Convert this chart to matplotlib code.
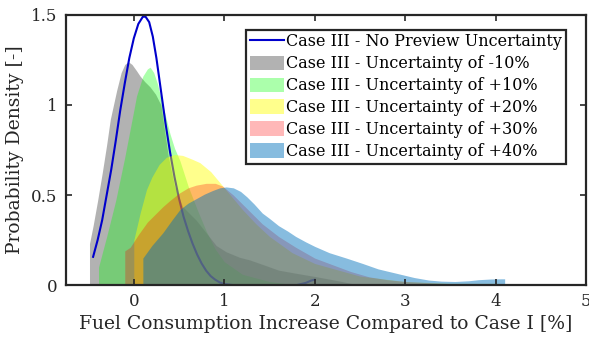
import matplotlib
matplotlib.use("Agg")
import matplotlib.pyplot as plt
import numpy as np

plt.rcParams['font.family'] = ['DejaVu Serif']

# fuel consumption increase [%] vs. probability density, read per case
no_prev_x = [-0.45, -0.40, -0.35, -0.30, -0.25, -0.20, -0.15, -0.10, -0.05, 0.00, 0.05,
             0.10, 0.13, 0.17, 0.21, 0.25, 0.30, 0.35, 0.40, 0.45, 0.50, 0.55, 0.60,
             0.65, 0.70, 0.75, 0.80, 0.85, 0.90, 0.95, 1.00, 1.10, 1.80, 1.90, 1.96, 2.00]
no_prev_y = [0.157, 0.25, 0.36, 0.50, 0.64, 0.80, 0.97, 1.12, 1.26, 1.37, 1.45,
             1.49, 1.49, 1.46, 1.38, 1.26, 1.08, 0.90, 0.74, 0.60, 0.48, 0.38, 0.30,
             0.23, 0.17, 0.12, 0.08, 0.05, 0.03, 0.015, 0.006, 0.0, 0.0, 0.012, 0.025, 0.03]

m10_x = [-0.49, -0.45, -0.40, -0.35, -0.30, -0.26, -0.19, -0.14, -0.10, -0.06, -0.02,
         0.03, 0.07, 0.12, 0.18, 0.24, 0.30, 0.34, 0.38, 0.45, 0.54, 0.69, 0.80, 0.91,
         1.02, 1.17, 1.28, 1.45, 1.60, 1.80, 2.00, 2.25, 2.49]
m10_y = [0.23, 0.33, 0.47, 0.62, 0.78, 0.92, 1.08, 1.18, 1.225, 1.24, 1.225,
         1.19, 1.16, 1.13, 1.10, 1.06, 1.00, 0.86, 0.72, 0.55, 0.435, 0.36, 0.29, 0.22,
         0.185, 0.154, 0.14, 0.11, 0.083, 0.065, 0.048, 0.025, 0.0]

p10_x = [-0.39, -0.30, -0.20, -0.10, 0.00, 0.03, 0.10, 0.15, 0.18, 0.22, 0.26, 0.30,
         0.35, 0.40, 0.45, 0.51, 0.60, 0.70, 0.80, 0.90, 1.00, 1.20, 1.50, 1.80]
p10_y = [0.10, 0.27, 0.47, 0.71, 0.97, 1.05, 1.16, 1.20, 1.21, 1.18, 1.12, 1.04,
         0.94, 0.84, 0.76, 0.69, 0.55, 0.42, 0.30, 0.20, 0.13, 0.06, 0.02, 0.0]

p20_x = [0.00, 0.07, 0.14, 0.20, 0.28, 0.36, 0.45, 0.54, 0.64, 0.73, 0.85, 0.95, 1.10,
         1.20, 1.35, 1.50, 1.75, 2.00, 2.50, 3.00, 3.50, 4.00, 4.30]
p20_y = [0.25, 0.40, 0.53, 0.60, 0.67, 0.71, 0.725, 0.72, 0.70, 0.68, 0.63, 0.57, 0.48,
         0.42, 0.34, 0.27, 0.18, 0.12, 0.05, 0.02, 0.01, 0.01, 0.005]

p30_x = [-0.10, -0.04, 0.05, 0.15, 0.25, 0.32, 0.40, 0.50, 0.60, 0.69, 0.80, 0.90,
         0.98, 1.10, 1.20, 1.30, 1.42, 1.60, 1.79, 2.00, 2.16, 2.40, 2.60, 2.80,
         3.00, 3.30, 3.50, 3.80]
p30_y = [0.19, 0.21, 0.28, 0.35, 0.40, 0.435, 0.47, 0.51, 0.54, 0.555, 0.565, 0.565,
         0.55, 0.50, 0.45, 0.40, 0.34, 0.27, 0.21, 0.15, 0.12, 0.075, 0.046, 0.03,
         0.02, 0.012, 0.008, 0.0]

p40_x = [0.10, 0.20, 0.32, 0.42, 0.51, 0.60, 0.69, 0.78, 0.87, 0.95, 1.02, 1.10, 1.18,
         1.25, 1.33, 1.42, 1.50, 1.60, 1.70, 1.79, 1.90, 2.00, 2.16, 2.35, 2.53, 2.70,
         2.90, 3.10, 3.26, 3.40, 3.55, 3.70, 3.81, 3.95, 4.07, 4.10]
p40_y = [0.15, 0.22, 0.29, 0.36, 0.42, 0.455, 0.48, 0.505, 0.525, 0.54, 0.545, 0.54, 0.52,
         0.49, 0.45, 0.40, 0.37, 0.33, 0.30, 0.27, 0.24, 0.215, 0.18, 0.15, 0.12, 0.09,
         0.066, 0.042, 0.028, 0.022, 0.02, 0.024, 0.03, 0.034, 0.035, 0.035]

labels = ['Case III - No Preview Uncertainty',
          'Case III - Uncertainty of -10%',
          'Case III - Uncertainty of +10%',
          'Case III - Uncertainty of +20%',
          'Case III - Uncertainty of +30%',
          'Case III - Uncertainty of +40%']

fig = plt.figure(figsize=(5.89, 3.39), dpi=100)
ax = fig.add_axes([0.112, 0.159, 0.883, 0.797])

# stacking: gray and green below the line, the other shaded areas on top of it
h_m10 = ax.fill_between(m10_x, m10_y, color=(0.5, 0.5, 0.5), alpha=0.6, lw=0, zorder=1.0)
h_p10 = ax.fill_between(p10_x, p10_y, color=(0.0, 1.0, 0.0), alpha=0.33, lw=0, zorder=1.1)
h_line, = ax.plot(no_prev_x, no_prev_y, color='#0000cc', lw=1.5, zorder=1.2)
h_p20 = ax.fill_between(p20_x, p20_y, color=(1.0, 1.0, 0.0), alpha=0.45, lw=0, zorder=1.3)
h_p30 = ax.fill_between(p30_x, p30_y, color=(1.0, 0.0, 0.0), alpha=0.28, lw=0, zorder=1.4)
h_p40 = ax.fill_between(p40_x, p40_y, color=(0.0, 0.447, 0.741), alpha=0.47, lw=0, zorder=1.5)

ax.set_xlim(-0.75, 5)
ax.set_ylim(0, 1.5)
ax.set_xticks([0, 1, 2, 3, 4, 5])
ax.set_yticks([0, 0.5, 1, 1.5])
ax.set_yticklabels(['0', '0.5', '1', '1.5'])
ax.tick_params(direction='in', top=True, right=True, length=4, width=1.2,
               labelsize=12, colors='#262626', pad=6)
for s in ax.spines.values():
    s.set_linewidth(1.6)
    s.set_color('#262626')
    s.set_zorder(3)

ax.set_xlabel('Fuel Consumption Increase Compared to Case I [%]', fontsize=13.5,
              labelpad=3, color='#262626')
ax.set_ylabel('Probability Density [-]', fontsize=13.5, labelpad=5, color='#262626')

leg = ax.legend([h_line, h_m10, h_p10, h_p20, h_p30, h_p40], labels,
                loc='upper right', bbox_to_anchor=(0.962, 0.946), fontsize=11.5,
                handlelength=2.1, handleheight=1.05, handletextpad=0.15,
                labelspacing=0.31, borderpad=0.25, borderaxespad=0,
                fancybox=False, framealpha=1)
leg.get_frame().set_edgecolor('#262626')
leg.get_frame().set_linewidth(1.6)

fig.savefig('out.png', dpi=100)
